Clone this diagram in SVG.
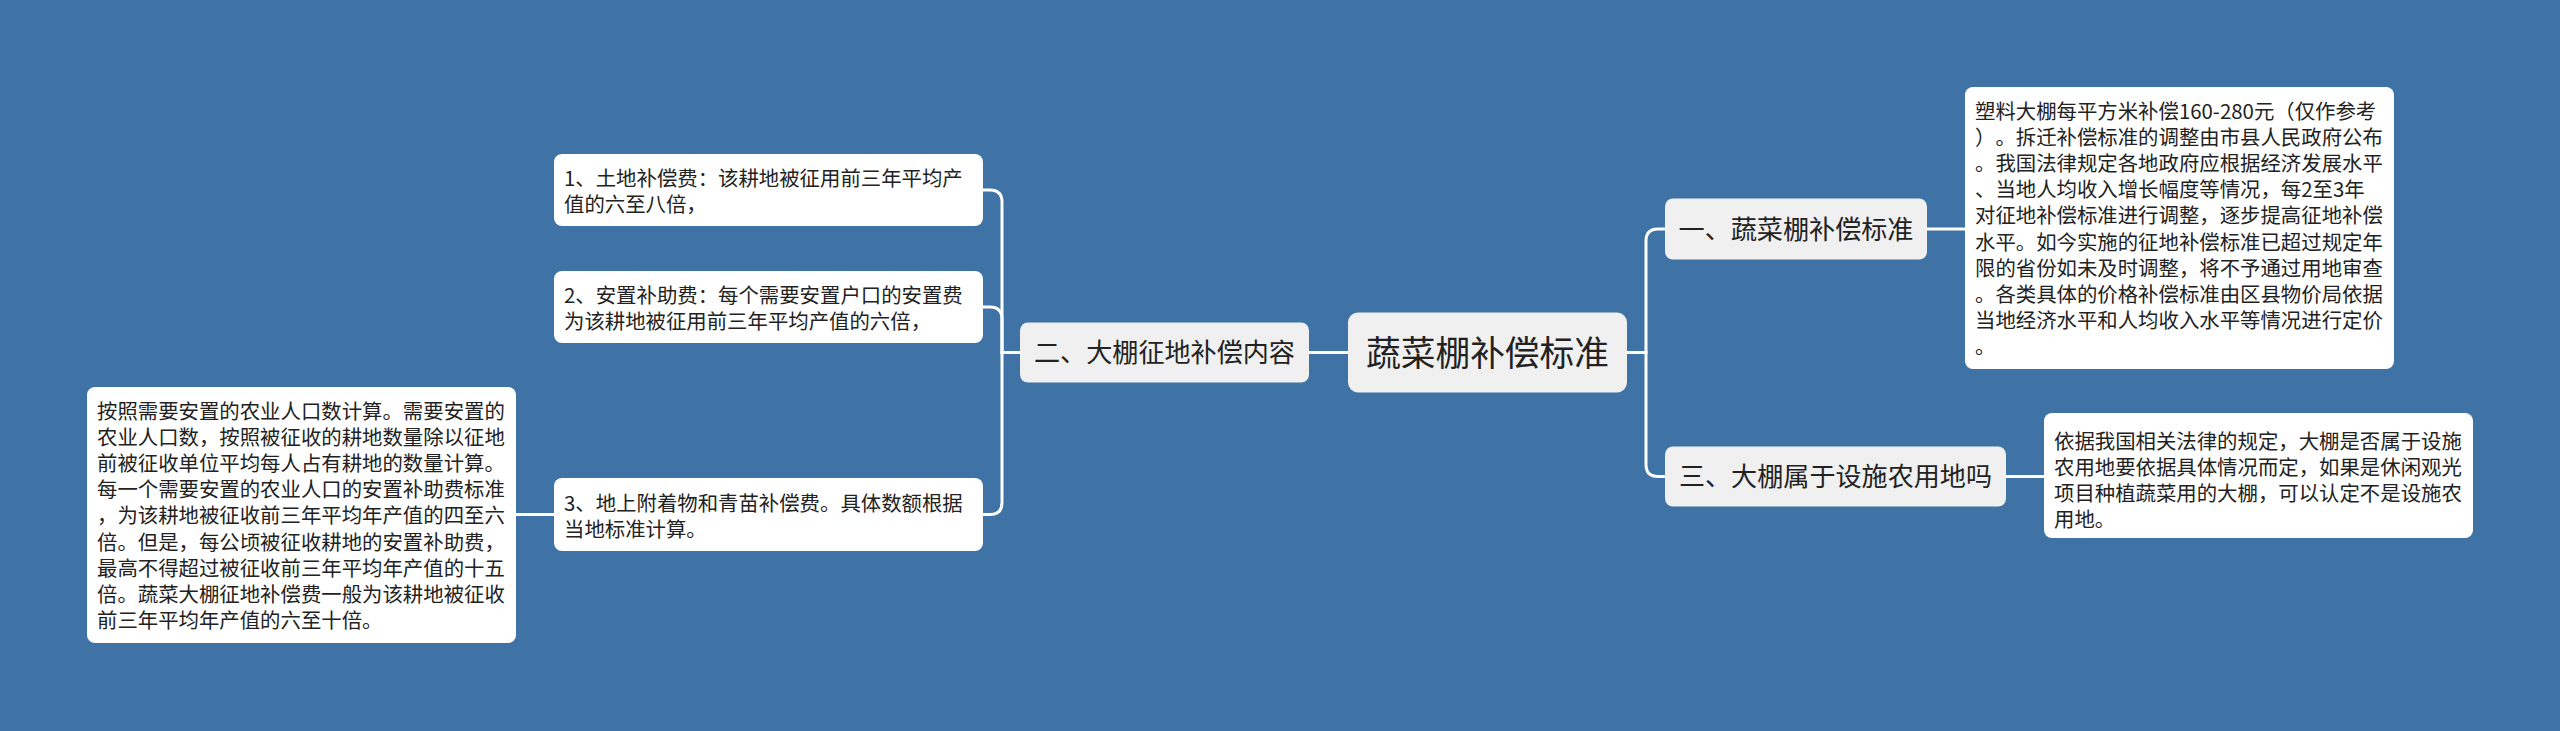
<svg xmlns="http://www.w3.org/2000/svg" width="2560" height="731" viewBox="0 0 2560 731">
<style>
.bg{fill:#3f73a6}
.leaf rect{fill:#ffffff}
.main rect{fill:#f0f0f0}
text{font-family:"Noto Sans CJK SC","Noto Sans",sans-serif;fill:#222222;text-spacing-trim:space-all;font-kerning:none}
.leaf text{font-size:20.4px}
.main text{font-size:26.1px;text-anchor:middle}
#root text{font-size:34.7px}
.conn path{fill:none;stroke:#ffffff;stroke-width:3}
</style>
<rect class="bg" x="0" y="0" width="2560" height="731"/>
<g class="conn" id="connectors">
<path d="M1348,352.5 H1309"/>
<path d="M1020,352.5 H1002 V202 Q1002,190 990,190 H983"/>
<path d="M1020,352.5 H1002 V319 Q1002,307 990,307 H983"/>
<path d="M1020,352.5 H1002 V502.5 Q1002,514.5 990,514.5 H983"/>
<path d="M554,514.5 H516"/>
<path d="M1627,352.5 H1646 V241 Q1646,229 1658,229 H1665"/>
<path d="M1627,352.5 H1646 V464.5 Q1646,476.5 1658,476.5 H1665"/>
<path d="M1927,229 H1965"/>
<path d="M2006,476.5 H2044"/>
</g>
<g id="root" class="main">
<rect x="1348" y="312.5" width="279" height="80" rx="10"/>
<text x="1487.5" y="365.7">蔬菜棚补偿标准</text>
</g>
<g id="n2" class="main">
<rect x="1020" y="322.5" width="289" height="60" rx="8"/>
<text x="1164.5" y="362.4">二、大棚征地补偿内容</text>
</g>
<g id="n1" class="main">
<rect x="1665" y="198.5" width="262" height="61" rx="8"/>
<text x="1796" y="239">一、蔬菜棚补偿标准</text>
</g>
<g id="n3" class="main">
<rect x="1665" y="446.5" width="341" height="60" rx="8"/>
<text x="1835.5" y="486.4">三、大棚属于设施农用地吗</text>
</g>
<g id="leafA" class="leaf">
<rect x="554" y="154" width="429" height="72" rx="8"/>
<text x="564" y="186">1、土地补偿费：该耕地被征用前三年平均产</text>
<text x="564" y="212.1">值的六至八倍，</text>
</g>
<g id="leafB" class="leaf">
<rect x="554" y="271" width="429" height="72" rx="8"/>
<text x="564" y="303">2、安置补助费：每个需要安置户口的安置费</text>
<text x="564" y="329.1">为该耕地被征用前三年平均产值的六倍，</text>
</g>
<g id="leafC" class="leaf">
<rect x="554" y="478" width="429" height="73" rx="8"/>
<text x="564" y="510.5">3、地上附着物和青苗补偿费。具体数额根据</text>
<text x="564" y="536.6">当地标准计算。</text>
</g>
<g id="leafD" class="leaf">
<rect x="87" y="387" width="429" height="256" rx="8"/>
<text x="97" y="419">按照需要安置的农业人口数计算。需要安置的</text>
<text x="97" y="445.1">农业人口数，按照被征收的耕地数量除以征地</text>
<text x="97" y="471.2">前被征收单位平均每人占有耕地的数量计算。</text>
<text x="97" y="497.3">每一个需要安置的农业人口的安置补助费标准</text>
<text x="97" y="523.4">，为该耕地被征收前三年平均年产值的四至六</text>
<text x="97" y="549.5">倍。但是，每公顷被征收耕地的安置补助费，</text>
<text x="97" y="575.6">最高不得超过被征收前三年平均年产值的十五</text>
<text x="97" y="601.7">倍。蔬菜大棚征地补偿费一般为该耕地被征收</text>
<text x="97" y="627.8">前三年平均年产值的六至十倍。</text>
</g>
<g id="leafE" class="leaf">
<rect x="1965" y="87" width="429" height="282" rx="8"/>
<text x="1975" y="119">塑料大棚每平方米补偿160-280元（仅作参考</text>
<text x="1975" y="145.1">）。拆迁补偿标准的调整由市县人民政府公布</text>
<text x="1975" y="171.2">。我国法律规定各地政府应根据经济发展水平</text>
<text x="1975" y="197.3">、当地人均收入增长幅度等情况，每2至3年</text>
<text x="1975" y="223.4">对征地补偿标准进行调整，逐步提高征地补偿</text>
<text x="1975" y="249.5">水平。如今实施的征地补偿标准已超过规定年</text>
<text x="1975" y="275.6">限的省份如未及时调整，将不予通过用地审查</text>
<text x="1975" y="301.7">。各类具体的价格补偿标准由区县物价局依据</text>
<text x="1975" y="327.8">当地经济水平和人均收入水平等情况进行定价</text>
<text x="1975" y="353.9">。</text>
</g>
<g id="leafF" class="leaf">
<rect x="2044" y="413" width="429" height="125" rx="8"/>
<text x="2054" y="449">依据我国相关法律的规定，大棚是否属于设施</text>
<text x="2054" y="475.1">农用地要依据具体情况而定，如果是休闲观光</text>
<text x="2054" y="501.2">项目种植蔬菜用的大棚，可以认定不是设施农</text>
<text x="2054" y="527.3">用地。</text>
</g>
</svg>
